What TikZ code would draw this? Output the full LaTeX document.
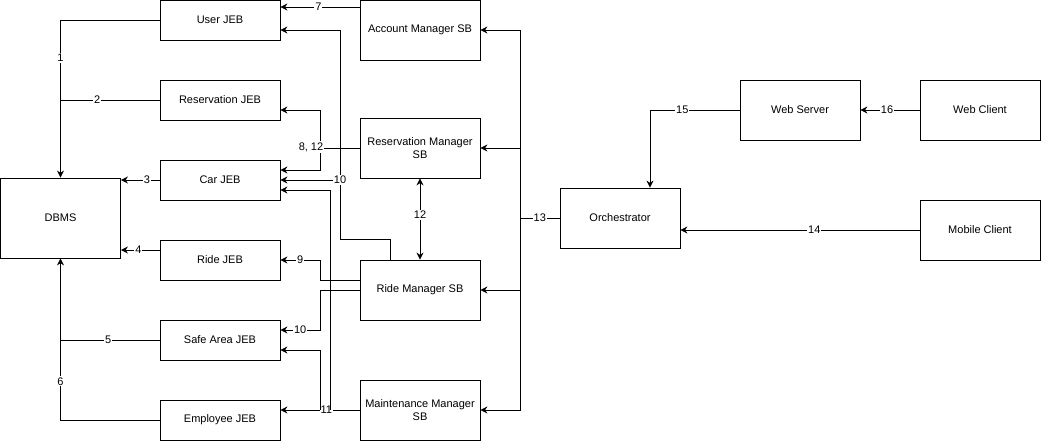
\documentclass[tikz,border=0pt]{standalone}
\usepackage{fontspec}
\setmainfont{Liberation Sans}
\usetikzlibrary{arrows.meta,calc}
\begin{document}
\begin{tikzpicture}[x=1pt,y=-1pt,line width=0.8pt,
  font=\fontsize{11}{13}\selectfont,
  box/.style={draw, minimum width=120pt, minimum height=40pt, inner sep=2pt, align=center},
  bigbox/.style={box, minimum height=60pt},
  arr/.style={-{Stealth[length=7pt,width=7pt]}},
  lbl/.style={fill=white, inner sep=1pt}]
\useasboundingbox (0,0) rectangle (1041,442);
\node[box] (user) at (220,20){User JEB};
\node[box] (resv) at (220,100){Reservation JEB};
\node[box] (car) at (220,180){Car JEB};
\node[box] (ride) at (220,260){Ride JEB};
\node[box] (safe) at (220,340){Safe Area JEB};
\node[box] (emp) at (220,420){Employee JEB};
\node[box, minimum height=80pt] (dbms) at (60.5,218){DBMS};
\node[bigbox] (acct) at (420,30){Account Manager SB};
\node[bigbox] (resvmgr) at (420,148){Reservation Manager\\SB};
\node[bigbox] (ridemgr) at (420,290){Ride Manager SB};
\node[bigbox] (maint) at (420,410){Maintenance Manager\\SB};
\node[bigbox] (orch) at (620,218){Orchestrator};
\node[bigbox] (websrv) at (800,110){Web Server};
\node[bigbox] (webcli) at (980,110){Web Client};
\node[bigbox] (mobcli) at (980,230){Mobile Client};
\coordinate (j8) at (320,148);
\coordinate (j10) at (340,180);
\coordinate (j11) at (320,410);
\coordinate (k11) at (330,410);
\coordinate (j13) at (520,218);
% JEBs to DBMS
\draw[arr](user.west) -| node[lbl, pos=0.62]{1} (dbms.north);
\draw[](resv.west) -- node[lbl, pos=0.63]{2} (resv.west -| dbms.north);
\draw[arr](car.west) -- node[lbl, pos=0.33]{3} (car.west -| dbms.east);
\draw[arr]($(ride.west)+(0,-10)$) -- node[lbl, pos=0.55]{4} (dbms.east |- {$(ride.west)+(0,-10)$});
\draw[](safe.west) -- node[lbl, pos=0.52]{5} (safe.west -| dbms.south);
\draw[arr](emp.west) -| node[lbl, pos=0.62]{6} (dbms.south);
% session beans to JEBs
\draw[arr]($(acct.west)+(0,-23)$) -- node[lbl, pos=0.52]{7} (user.east |- {$(acct.west)+(0,-23)$});
\draw[](resvmgr.west) -- (j8);
\draw[arr](j8) |- ($(resv.east)+(0,10)$);
\draw[arr](j8) |- ($(car.east)+(0,-10)$);
\node[lbl] at (311,147){8, 12};
\draw[arr]([xshift=-30pt]ridemgr.north) -- ++(0,-20) -| (340,30) -- ($(user.east)+(0,10)$);
\draw[arr](j10) -- (car.east);
\node[lbl] at (j10){10};
\draw[arr]($(ridemgr.west)+(0,-10)$) -| (320,260) -- node[lbl]{9} (ride.east);
\draw[arr](ridemgr.west) -| (320,330) -- node[lbl]{10} ($(safe.east)+(0,-10)$);
\draw[arr](maint.west) -- node[lbl, pos=0.42]{11} (emp.east |- maint.west);
\draw[arr](j11) |- ($(safe.east)+(0,10)$);
\draw[arr](k11) |- ($(car.east)+(0,10)$);
\draw[{Stealth[length=7pt,width=7pt]}-{Stealth[length=7pt,width=7pt]}](resvmgr.south) -- node[lbl, pos=0.45]{12} (ridemgr.north);
% orchestrator
\draw[](orch.west) -- node[lbl]{13} (j13);
\draw[arr](j13) |- (acct.east);
\draw[arr](j13) |- (resvmgr.east);
\draw[arr](j13) |- (ridemgr.east);
\draw[arr](j13) |- (maint.east);
\draw[arr](mobcli.west) -- node[lbl, pos=0.44]{14} (orch.east |- mobcli.west);
\draw[arr](websrv.west) -| node[lbl, pos=0.32]{15} ([xshift=30pt]orch.north);
\draw[arr](webcli.west) -- node[lbl, pos=0.55]{16} (websrv.east);
\end{tikzpicture}
\end{document}
